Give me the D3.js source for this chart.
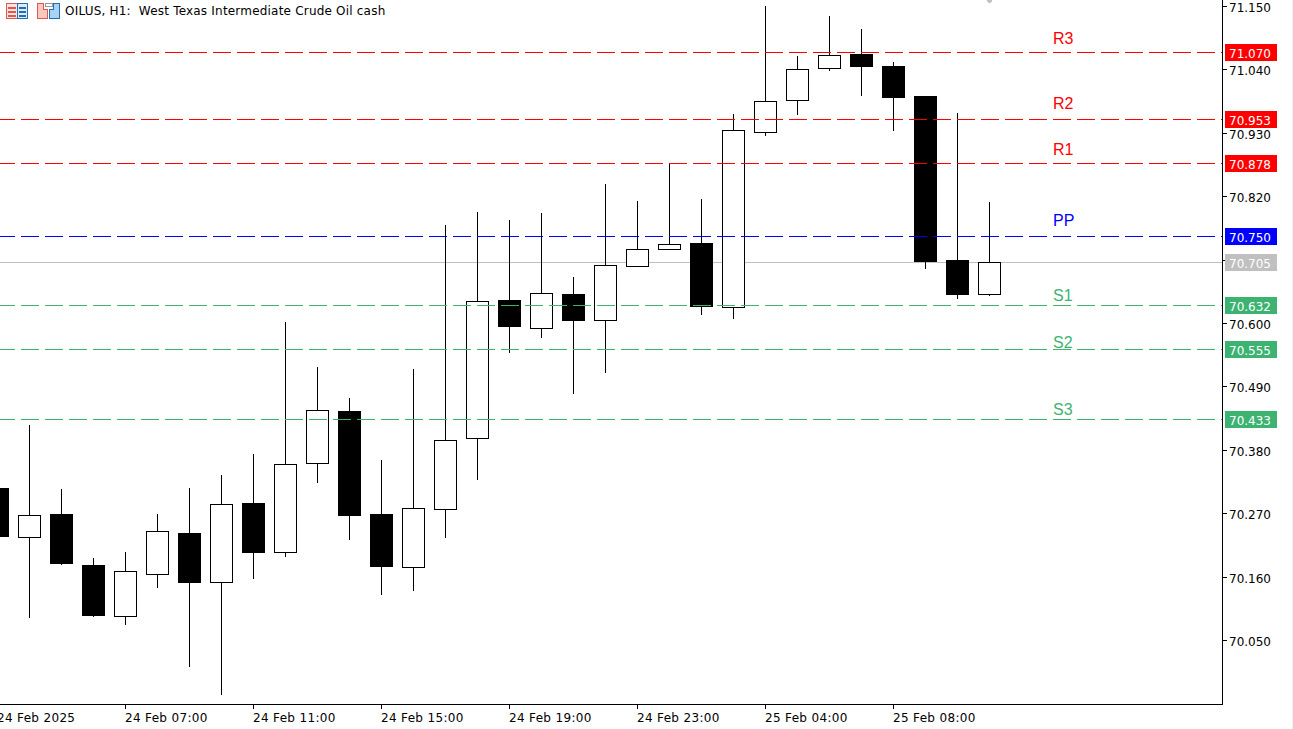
<!DOCTYPE html>
<html>
<head>
<meta charset="utf-8">
<script src="https://cdn.jsdelivr.net/npm/d3@7/dist/d3.min.js"></script>
<style>
html,body{margin:0;padding:0;background:#fff;overflow:hidden}
svg{display:block}
text{font-family:"DejaVu Sans",sans-serif;font-size:12px;white-space:pre}
.crisp{shape-rendering:crispEdges}
.axis line{shape-rendering:crispEdges;stroke:#000}
.axis text{fill:#000}
</style>
</head>
<body>
<svg id="chart" width="1293" height="729"></svg>
<script>
const titleText = "OILUS, H1:  West Texas Intermediate Crude Oil cash";

const times = [
 "24 Feb 03:00","24 Feb 04:00","24 Feb 05:00","24 Feb 06:00","24 Feb 07:00","24 Feb 08:00","24 Feb 09:00","24 Feb 10:00",
 "24 Feb 11:00","24 Feb 12:00","24 Feb 13:00","24 Feb 14:00","24 Feb 15:00","24 Feb 16:00","24 Feb 17:00","24 Feb 18:00",
 "24 Feb 19:00","24 Feb 20:00","24 Feb 21:00","24 Feb 22:00","24 Feb 23:00","25 Feb 01:00","25 Feb 02:00","25 Feb 03:00",
 "25 Feb 04:00","25 Feb 05:00","25 Feb 06:00","25 Feb 07:00","25 Feb 08:00","25 Feb 09:00","25 Feb 10:00","25 Feb 11:00"
];
const opens  = [70.314,70.229,70.269,70.181,70.092,70.165,70.236,70.151,70.288,70.203,70.357,70.448,70.269,70.177,70.278,70.401,
                70.640,70.591,70.650,70.605,70.699,70.728,70.739,70.628,70.931,70.986,71.042,71.066,71.045,70.993,70.709,70.650];
const highs  = [70.314,70.423,70.312,70.193,70.203,70.269,70.314,70.337,70.373,70.602,70.524,70.470,70.363,70.520,70.770,70.792,
                70.778,70.791,70.680,70.841,70.811,70.877,70.815,70.962,71.149,71.063,71.132,71.110,71.052,70.993,70.964,70.810];
const lows   = [70.231,70.090,70.182,70.092,70.078,70.142,70.006,69.957,70.158,70.196,70.324,70.226,70.130,70.137,70.229,70.330,
                70.550,70.576,70.479,70.515,70.699,70.728,70.616,70.609,70.926,70.962,71.038,70.995,70.934,70.695,70.643,70.648];
const closes = [70.231,70.267,70.184,70.094,70.170,70.240,70.151,70.286,70.203,70.356,70.449,70.267,70.179,70.279,70.397,70.638,
                70.595,70.652,70.605,70.700,70.728,70.737,70.629,70.934,70.985,71.040,71.064,71.045,70.992,70.707,70.650,70.705];

const levelNames  = ["R3","R2","R1","PP","S1","S2","S3"];
const levelValues = [71.070,70.953,70.878,70.750,70.632,70.555,70.433];
const levelColors = ["#ff0000","#ff0000","#ff0000","#0000ff","#3cb371","#3cb371","#3cb371"];
const levelTextPrices = [71.084,70.971,70.892,70.769,70.639,70.5575,70.441];
const lastPrice = 70.705;

const priceTicks = [71.15,71.04,70.93,70.82,70.71,70.60,70.49,70.38,70.27,70.16,70.05];
const hiddenPriceTicks = [70.71];
const timeTicks = ["24 Feb 03:00","24 Feb 07:00","24 Feb 11:00","24 Feb 15:00","24 Feb 19:00","24 Feb 23:00","25 Feb 04:00","25 Feb 08:00"];
const timeTickLabels = ["24 Feb 2025","24 Feb 07:00","24 Feb 11:00","24 Feb 15:00","24 Feb 19:00","24 Feb 23:00","25 Feb 04:00","25 Feb 08:00"];

const plotRight = 1222, plotBottom = 704;
const svg = d3.select("#chart");

const x = d3.scalePoint().domain(times).range([-2.5, 989.5]);
const y = d3.scaleLinear().domain([71.07, 70.07]).range([52.3, 629.3]);
const snap = v => Math.floor(v) + 0.5;
const fmt = d3.format(".3f");
const bodyHalf = 11;

// right side strip
svg.append("rect").attr("class","crisp").attr("x",1292).attr("y",0).attr("width",1).attr("height",729).attr("fill","#f0f0f0");

const plot = svg.append("g");

// last price line (behind candles)
plot.append("line").attr("class","crisp")
  .attr("x1",0).attr("x2",plotRight)
  .attr("y1",snap(y(lastPrice))).attr("y2",snap(y(lastPrice)))
  .attr("stroke","#c0c0c0");

// candles
const candles = plot.append("g").selectAll("g").data(times).join("g").attr("class","crisp");
candles.append("line")
  .attr("x1",d=>x(d)).attr("x2",d=>x(d))
  .attr("y1",(d,i)=>Math.floor(y(highs[i])))
  .attr("y2",(d,i)=>Math.floor(y(lows[i]))+1)
  .attr("stroke","#000");
candles.append("rect")
  .attr("x",d=>x(d)-bodyHalf)
  .attr("width",bodyHalf*2)
  .attr("y",(d,i)=>snap(y(Math.max(opens[i],closes[i]))))
  .attr("height",(d,i)=>snap(y(Math.min(opens[i],closes[i])))-snap(y(Math.max(opens[i],closes[i]))))
  .attr("fill",(d,i)=>closes[i]>=opens[i]?"#fff":"#000")
  .attr("stroke","#000");

// level lines (on top of candles)
plot.append("g").selectAll("line").data(levelValues).join("line")
  .attr("class","crisp")
  .attr("x1",0).attr("x2",plotRight)
  .attr("y1",d=>snap(y(d))).attr("y2",d=>snap(y(d)))
  .attr("stroke",(d,i)=>levelColors[i])
  .attr("stroke-dasharray","18 6")
  .attr("stroke-dashoffset",3);

// level names
plot.append("g").selectAll("text").data(levelNames).join("text")
  .attr("x",1053)
  .attr("y",(d,i)=>y(levelTextPrices[i]))
  .attr("fill",(d,i)=>levelColors[i])
  .style("font-family","'Liberation Sans',sans-serif")
  .style("font-size","16px")
  .text(d=>d);

// frame
svg.append("line").attr("class","crisp").attr("x1",plotRight+.5).attr("x2",plotRight+.5).attr("y1",0).attr("y2",plotBottom+1).attr("stroke","#000");
svg.append("line").attr("class","crisp").attr("x1",0).attr("x2",plotRight+1).attr("y1",plotBottom+.5).attr("y2",plotBottom+.5).attr("stroke","#000");

// price axis
const yAxis = d3.axisRight(y).tickValues(priceTicks).tickSize(4).tickSizeOuter(0)
  .tickFormat(d=>hiddenPriceTicks.includes(d)?"":fmt(d));
const yG = svg.append("g").attr("class","axis").attr("transform",`translate(${plotRight+1},0)`).call(yAxis);
yG.select(".domain").remove();
yG.selectAll(".tick").attr("transform",d=>`translate(0,${snap(y(d))})`);
yG.selectAll(".tick text").attr("x",6).attr("dy",null).attr("y",5.2).style("font-size","12px").style("font-family",'"DejaVu Sans",sans-serif');

// time axis
const xAxis = d3.axisBottom(x).tickValues(timeTicks).tickSize(4).tickSizeOuter(0)
  .tickFormat(d=>timeTickLabels[timeTicks.indexOf(d)]);
const xG = svg.append("g").attr("class","axis").attr("transform",`translate(0,${plotBottom+1})`).call(xAxis);
xG.select(".domain").remove();
xG.selectAll(".tick").attr("transform",d=>`translate(${x(d)},0)`);
xG.selectAll(".tick text").attr("text-anchor","start").attr("dy",null).attr("x",-0.5).attr("y",17)
  .style("font-size","12px").style("letter-spacing","0.33px").style("font-family",'"DejaVu Sans",sans-serif');

// price boxes
const boxData = levelValues.map((v,i)=>({v,c:levelColors[i]})).concat([{v:lastPrice,c:"#c0c0c0"}]);
const boxes = svg.append("g").selectAll("g").data(boxData).join("g")
  .attr("transform",d=>`translate(1225,${snap(y(d.v))})`);
boxes.append("rect").attr("class","crisp").attr("x",0).attr("y",-8.5).attr("width",52).attr("height",17).attr("fill",d=>d.c);
boxes.append("text").attr("x",4).attr("y",5).attr("fill","#fff").text(d=>fmt(d.v));

// title
svg.append("text").attr("x",65).attr("y",15).attr("fill","#000").style("letter-spacing","0.2px").text(titleText);

// top icons
const ic = svg.append("g").attr("class","crisp");
ic.append("rect").attr("x",6.5).attr("y",3.5).attr("width",11).attr("height",15).attr("fill","#fbe3df").attr("stroke","#e2574c");
ic.append("rect").attr("x",17.5).attr("y",3.5).attr("width",10).attr("height",15).attr("fill","#dcebf8").attr("stroke","#1f6fb2");
[7,11,15].forEach(v=>{
  ic.append("rect").attr("x",8).attr("y",v).attr("width",8).attr("height",2).attr("fill","#e2574c");
  ic.append("rect").attr("x",19).attr("y",v).attr("width",7).attr("height",2).attr("fill","#1f6fb2");
});
svg.append("path").attr("d","M37.5 3.5H43.5V9.5H47.5V18.5H37.5Z").attr("fill","#f9c9c0").attr("stroke","#e2574c").attr("class","crisp");
svg.append("path").attr("d","M49.5 9.5H53.5V3.5H59.5V18.5H49.5Z").attr("fill","#a9d3f3").attr("stroke","#1f6fb2").attr("class","crisp");
svg.append("rect").attr("x",45.5).attr("y",3.5).attr("width",7).attr("height",3).attr("fill","#fff").attr("stroke","#999").attr("class","crisp");

// small marker at the top edge
svg.append("path").attr("d","M987 0H992V1.5L989.5 3.5L987 1.5Z").attr("fill","#c0c0c0");
</script>
</body>
</html>
